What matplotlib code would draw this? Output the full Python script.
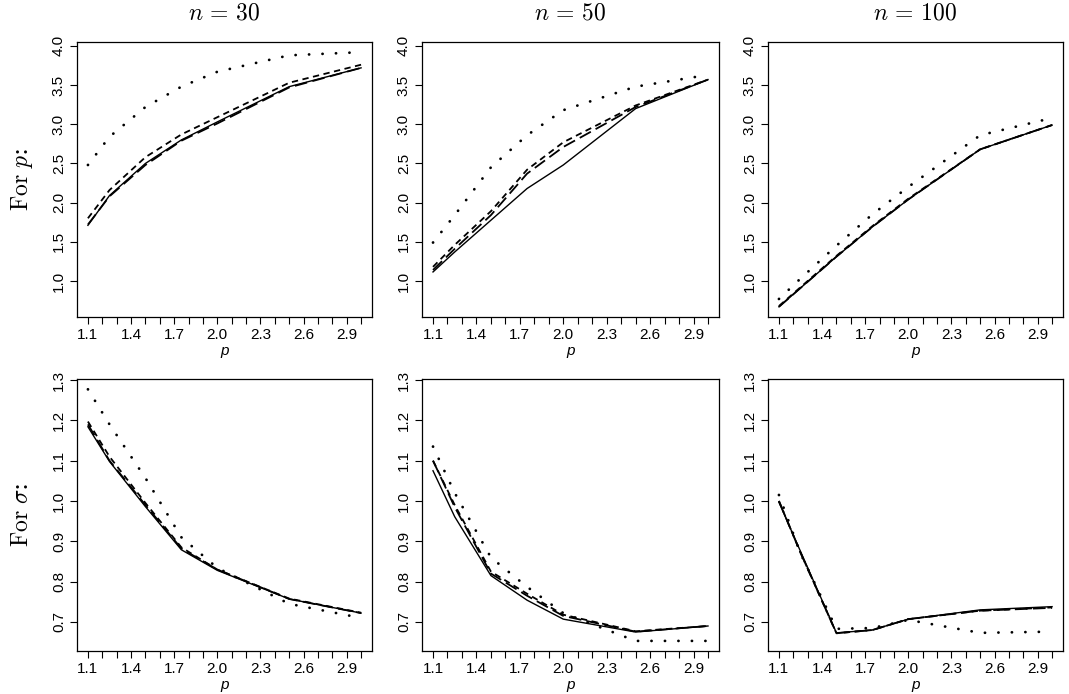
import matplotlib
matplotlib.use("Agg")
import matplotlib.pyplot as plt
import numpy as np

plt.rcParams['mathtext.fontset'] = 'cm'
plt.rcParams['font.family'] = ['Liberation Sans', 'DejaVu Sans']

# grid of p values
p_vals = [1.1, 1.25, 1.5, 1.75, 2.0, 2.5, 3.0]
sample_sizes = [30, 50, 100]

# estimates of p (top row), four methods per n
p_solid_30 = [1.71, 2.09, 2.50, 2.80, 3.03, 3.48, 3.72]
p_long_30 = [1.72, 2.08, 2.48, 2.79, 3.01, 3.47, 3.72]
p_short_30 = [1.80, 2.16, 2.58, 2.87, 3.09, 3.53, 3.76]
p_dot_30 = [2.48, 2.84, 3.22, 3.48, 3.67, 3.88, 3.92]

p_solid_50 = [1.115, 1.37, 1.775, 2.18, 2.48, 3.20, 3.57]
p_long_50 = [1.14, 1.41, 1.84, 2.37, 2.71, 3.22, 3.57]
p_short_50 = [1.18, 1.46, 1.89, 2.42, 2.77, 3.24, 3.57]
p_dot_50 = [1.49, 1.84, 2.45, 2.86, 3.18, 3.48, 3.63]

p_solid_100 = [0.67, 0.91, 1.31, 1.69, 2.04, 2.68, 2.99]
p_long_100 = [0.67, 0.91, 1.31, 1.69, 2.04, 2.68, 2.99]
p_short_100 = [0.68, 0.92, 1.32, 1.70, 2.05, 2.68, 2.99]
p_dot_100 = [0.77, 1.03, 1.45, 1.85, 2.20, 2.86, 3.08]

# estimates of sigma (bottom row)
s_solid_30 = [1.184, 1.098, 0.986, 0.879, 0.828, 0.757, 0.722]
s_long_30 = [1.19, 1.100, 0.990, 0.882, 0.830, 0.757, 0.722]
s_short_30 = [1.197, 1.110, 0.995, 0.885, 0.830, 0.758, 0.723]
s_dot_30 = [1.277, 1.190, 1.057, 0.910, 0.834, 0.745, 0.710]

s_solid_50 = [1.075, 0.961, 0.815, 0.754, 0.707, 0.675, 0.690]
s_long_50 = [1.100, 0.985, 0.820, 0.765, 0.715, 0.676, 0.690]
s_short_50 = [1.100, 0.990, 0.825, 0.770, 0.718, 0.677, 0.690]
s_dot_50 = [1.135, 1.020, 0.860, 0.787, 0.722, 0.653, 0.653]

s_solid_100 = [0.997, 0.875, 0.673, 0.680, 0.707, 0.730, 0.738]
s_long_100 = [1.000, 0.872, 0.672, 0.680, 0.707, 0.728, 0.735]
s_short_100 = [1.000, 0.872, 0.672, 0.680, 0.707, 0.728, 0.736]
s_dot_100 = [1.015, 0.870, 0.683, 0.685, 0.705, 0.673, 0.676]

top_data = [
    [p_solid_30, p_long_30, p_short_30, p_dot_30],
    [p_solid_50, p_long_50, p_short_50, p_dot_50],
    [p_solid_100, p_long_100, p_short_100, p_dot_100],
]
bottom_data = [
    [s_solid_30, s_long_30, s_short_30, s_dot_30],
    [s_solid_50, s_long_50, s_short_50, s_dot_50],
    [s_solid_100, s_long_100, s_short_100, s_dot_100],
]

line_styles = [
    dict(linestyle='-', lw=1.0),
    dict(linestyle=(0, (7, 3)), lw=1.3),
    dict(linestyle=(0, (3.5, 2.5)), lw=1.3),
    dict(linestyle=(0, (0.05, 4.8)), lw=2.0, dash_capstyle='round'),
]

fig = plt.figure(figsize=(10.69, 6.94), dpi=100)

W, H = 1069.0, 694.0
cols = [(77, 372), (422, 719), (768, 1063)]
rows = [(42, 317), (379, 651)]

x_ticks = np.round(np.arange(1.1, 3.01, 0.1), 2)
x_labels = ['%.1f' % t if i % 3 == 0 else '' for i, t in enumerate(x_ticks)]

for r, (top, bot) in enumerate(rows):
    for c, (left, right) in enumerate(cols):
        ax = fig.add_axes([left / W, 1 - bot / H, (right - left) / W, (bot - top) / H])
        data = top_data[c] if r == 0 else bottom_data[c]
        for series, st in zip(data, line_styles):
            ax.plot(p_vals, series, color='black', **st)
        ax.set_xlim(1.024, 3.076)
        ax.set_xticks(x_ticks)
        ax.set_xticklabels(x_labels)
        if r == 0:
            ax.set_ylim(0.54, 4.05)
            yt = [1.0, 1.5, 2.0, 2.5, 3.0, 3.5, 4.0]
        else:
            ax.set_ylim(0.628, 1.3025)
            yt = [0.7, 0.8, 0.9, 1.0, 1.1, 1.2, 1.3]
        ax.set_yticks(yt)
        ax.set_yticklabels(['%.1f' % v for v in yt], rotation=90, va='center')
        ax.tick_params(direction='out', length=5, width=0.8, labelsize=11, pad=3)
        for sp in ax.spines.values():
            sp.set_linewidth(0.9)
        ax.set_xlabel('p', fontsize=11, labelpad=1, fontstyle='italic')
        if r == 0:
            fig.text((left + right) / 2 / W, 1 - 14 / H, r'$n\,=\,%d$' % sample_sizes[c],
                     ha='center', va='center', fontsize=17)

fig.text(22 / W, 1 - 180 / H, r'$\mathrm{For}\ p$:', rotation=90, ha='center', va='center',
         fontsize=17, fontfamily='DejaVu Serif')
fig.text(22 / W, 1 - 515 / H, r'$\mathrm{For}\ \sigma$:', rotation=90, ha='center', va='center',
         fontsize=17, fontfamily='DejaVu Serif')

fig.savefig('out.png', dpi=100)
